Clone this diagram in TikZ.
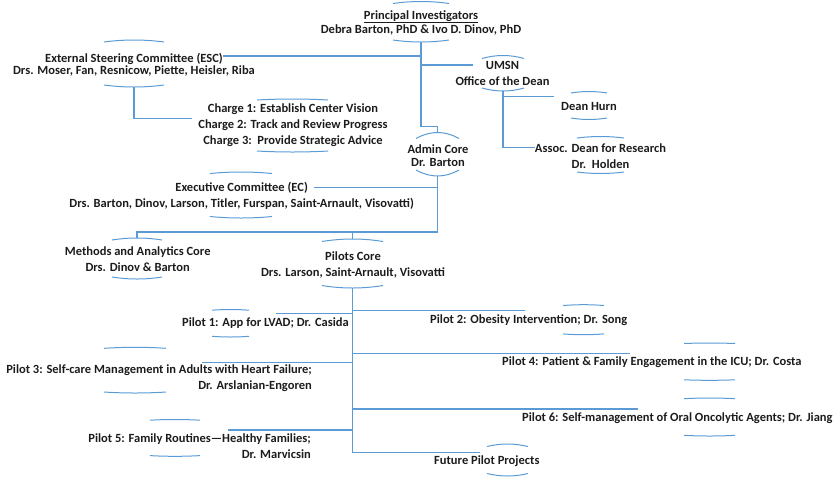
\documentclass[tikz,border=0pt]{standalone}
\usepackage{fontspec}
\setmainfont{Carlito}
\usetikzlibrary{calc}

\definecolor{wire}{RGB}{91,155,213}
\definecolor{ink}{RGB}{28,28,28}

\tikzset{
  box/.style={font=\bfseries\fontsize{12.5}{16}\selectfont, text=ink, inner sep=0pt, align=center},
  link/.style={draw=wire, line width=1.2pt},
  lens/.style={draw=wire, line width=1pt},
}

% arcs over and under a block: name, left x, right x, top y, bottom y, bulge
\newcommand{\lens}[6]{%
  \pgfmathsetmacro{\lnsA}{#2+(#3-#2)/3}%
  \pgfmathsetmacro{\lnsB}{#3-(#3-#2)/3}%
  \pgfmathsetmacro{\lnsM}{(#2+#3)/2}%
  \draw[lens] (#2,#4+#6) .. controls (\lnsA,#4-#6/3) and (\lnsB,#4-#6/3) .. (#3,#4+#6);
  \draw[lens] (#2,#5-#6) .. controls (\lnsA,#5+#6/3) and (\lnsB,#5+#6/3) .. (#3,#5-#6);
  \coordinate (#1-top) at (\lnsM,#4);
  \coordinate (#1-bot) at (\lnsM,#5);
}

\begin{document}
\begin{tikzpicture}[x=1pt, y=-1pt]
  \useasboundingbox (0,0) rectangle (840,499);

  % top of the tree
  \node[box] (pi) at (421,22.5) {\underline{Principal Investigators}\\[-2pt]Debra Barton, PhD \& Ivo D. Dinov, PhD};
  \lens{pi}{393}{449}{1.5}{42}{2}

  \node[box] (esc) at (134,58.5) {External Steering Committee (ESC)};
  \node[box] (escdrs) at (134,71) {Drs. Moser, Fan, Resnicow, Piette, Heisler, Riba};
  \lens{esc}{104}{164}{40}{87}{2}

  \node[box] (charges) at (293,125) {Charge 1: Establish Center Vision\\Charge 2: Track and Review Progress\\Charge 3:\ \ Provide Strategic Advice};
  \lens{charges}{257}{328}{99}{152}{1}

  \node[box] (umsn) at (502.5,65.5) {UMSN};
  \node[box] (office) at (502.5,81.5) {Office of the Dean};
  \lens{umsn}{482}{524}{55.5}{91}{3}

  \node[box] (hurn) at (589,106) {Dean Hurn};
  \lens{hurn}{571}{607}{91.5}{119.5}{1.5}

  \node[box] (assoc) at (600.5,147.8) {Assoc. Dean for Research};
  \node[box] (holden) at (600.5,163.8) {Dr.\ \ Holden};
  \lens{assoc}{577}{624}{136.5}{173.5}{1.5}

  \node[box] (admin) at (438,155.5) {Admin Core\\[-3pt]Dr. Barton};
  \lens{admin}{416}{459}{132.5}{176}{6}

  % committees and cores
  \node[box] (ec) at (241.7,187.8) {Executive Committee (EC)};
  \node[box] (ecdrs) at (241.7,204) {Drs. Barton, Dinov, Larson, Titler, Furspan, Saint-Arnault, Visovatti)};
  \lens{ec}{210}{272}{172}{218}{1.5}

  \node[box] (methods) at (137.7,259) {Methods and Analytics Core\\Drs. Dinov \& Barton};
  \lens{methods}{112}{162}{238}{279}{2}

  \node[box] (pilots) at (353,264.5) {Pilots Core\\Drs. Larson, Saint-Arnault, Visovatti};
  \lens{pilots}{322}{383}{239}{288}{2.5}

  % pilots
  \node[box, anchor=east] (pilot1) at (349,323) {Pilot 1: App for LVAD; Dr. Casida};
  \lens{pilot1}{212}{249}{309.5}{337}{0.7}
  \node[box, anchor=west] (pilot2) at (430,319.8) {Pilot 2: Obesity Intervention; Dr. Song};
  \lens{pilot2}{563}{604}{304.7}{334.7}{0.8}
  \node[box, align=right, anchor=east] (pilot3) at (312,378.5) {Pilot 3: Self-care Management in Adults with Heart Failure;\\Dr. Arslanian-Engoren};
  \lens{pilot3}{104}{166}{347.3}{393}{1}
  \node[box, anchor=west] (pilot4) at (502,362) {Pilot 4: Patient \& Family Engagement in the ICU; Dr. Costa};
  \lens{pilot4}{684}{735}{343}{380.3}{0.5}
  \node[box, align=right, anchor=east] (pilot5) at (311,446.2) {Pilot 5: Family Routines---Healthy Families;\\Dr. Marvicsin};
  \lens{pilot5}{150}{200}{419.5}{456.3}{0.7}
  \node[box, anchor=west] (pilot6) at (522,417.8) {Pilot 6: Self-management of Oral Oncolytic Agents; Dr. Jiang};
  \lens{pilot6}{684}{735}{398}{436}{0.7}
  \node[box, anchor=west] (future) at (434,461) {Future Pilot Projects};
  \lens{future}{487}{528}{444}{476}{2.5}

  % link ends
  \coordinate (esc-in) at ([yshift=2.5pt]esc.east);
  \coordinate (charges-in) at ([xshift=-6pt,yshift=6.5pt]charges.west);
  \coordinate (umsn-in) at ([xshift=-13pt,yshift=0.5pt]umsn.west);
  \coordinate (hurn-in) at ([xshift=-7pt,yshift=9.3pt]hurn.west);
  \coordinate (ec-in) at ([xshift=6pt,yshift=0.5pt]ec.east);
  \coordinate (p1-in) at (276,313.3);
  \coordinate (p2-in) at (525,310.7);
  \coordinate (p3-in) at (202,362.3);
  \coordinate (p4-in) at (630,353.3);
  \coordinate (p5-in) at (228,430);
  \coordinate (p6-in) at (638.3,409);
  \coordinate (fut-in) at (480,452.3);

  % connectors
  \draw[link] (pi-bot) |- ([yshift=6pt]admin-top) -- (admin-top);
  \draw[link] (esc-in) -- (esc-in -| pi-bot);
  \draw[link] (esc-bot) |- (charges-in);
  \draw[link] (umsn-in -| pi-bot) -- (umsn-in);
  \draw[link] (umsn-bot) |- (assoc.west);
  \draw[link] (hurn-in -| umsn-bot) -- (hurn-in);
  \draw[link] (ec-in) -- (ec-in -| admin-bot);
  \draw[link] (admin-bot) |- ([yshift=6pt]methods-top) -- (methods-top);
  \draw[link] ([yshift=7pt]pilots-top) -- (pilots-top);
  \draw[link] (pilots-bot) |- (fut-in);
  \draw[link] (p1-in) -- (p1-in -| pilots-bot);
  \draw[link] (p2-in) -- (p2-in -| pilots-bot);
  \draw[link] (p3-in) -- (p3-in -| pilots-bot);
  \draw[link] (p4-in) -- (p4-in -| pilots-bot);
  \draw[link] (p5-in) -- (p5-in -| pilots-bot);
  \draw[link] (p6-in) -- (p6-in -| pilots-bot);
\end{tikzpicture}
\end{document}
